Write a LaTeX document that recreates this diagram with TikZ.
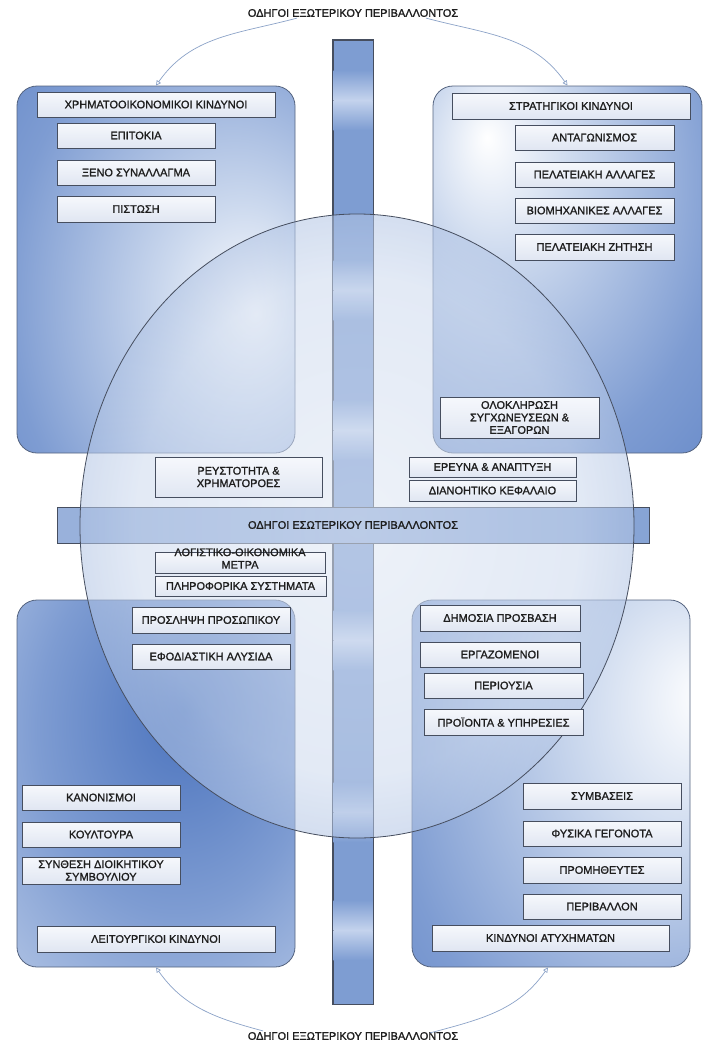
\documentclass[tikz,border=0pt]{standalone}
\usepackage{fontspec}
\setmainfont{Liberation Sans}[BoldFont={Liberation Sans}, BoldFeatures={FakeBold=1.2}]
\usetikzlibrary{arrows.meta,calc}
\definecolor{qdark}{RGB}{76,116,190}
\definecolor{qmid}{RGB}{126,156,210}
\definecolor{qlight}{RGB}{204,217,238}
\definecolor{barA}{RGB}{126,157,210}
\definecolor{barB}{RGB}{196,211,237}
\definecolor{edge}{RGB}{70,78,95}
\definecolor{quadedge}{RGB}{85,100,128}
\definecolor{boxtop}{RGB}{246,248,252}
\definecolor{boxbot}{RGB}{224,230,242}
\definecolor{arrowc}{RGB}{140,163,200}
\definecolor{txt}{RGB}{30,30,30}
\pgfdeclareradialshading{shTL}{\pgfpoint{18bp}{-6bp}}{color(0bp)=(white); color(14bp)=(qlight); color(38bp)=(qmid); color(68bp)=(qdark); color(100bp)=(qdark)}
\pgfdeclareradialshading{shTR}{\pgfpoint{-15bp}{18bp}}{color(0bp)=(white); color(14bp)=(qlight); color(38bp)=(qmid); color(68bp)=(qdark); color(100bp)=(qdark)}
\pgfdeclareradialshading{shBL}{\pgfpoint{5bp}{10bp}}{color(0bp)=(qdark); color(25bp)=(qmid); color(55bp)=(qlight); color(100bp)=(qlight)}
\pgfdeclareradialshading{shBR}{\pgfpoint{28bp}{12bp}}{color(0bp)=(white); color(18bp)=(qlight); color(45bp)=(qmid); color(75bp)=(qdark); color(100bp)=(qdark)}
\pgfdeclareradialshading{shC}{\pgfpoint{0bp}{0bp}}{color(0bp)=(qlight!60!white); color(20bp)=(qlight); color(35bp)=(qmid); color(47bp)=(qdark); color(50bp)=(qdark); color(100bp)=(qdark)}
\pgfdeclarehorizontalshading{shH}{100bp}{color(0bp)=(barB); color(10bp)=(barA!75!white); color(100bp)=(barA)}
\newcommand\myfs{\fontsize{11}{12.5}\selectfont\bfseries}
\tikzset{
  quad/.style={draw=quadedge, line width=0.8pt, rounded corners=20pt, inner sep=0pt, shade},
  sbox/.style={draw=edge, line width=0.8pt, top color=boxtop, bottom color=boxbot, inner sep=0pt, font=\myfs, text=txt, align=center},
  bar/.style={draw=edge, line width=0.7pt, inner sep=0pt},
  lbl/.style={font=\myfs, text=txt, inner sep=1pt, align=center},
  conn/.style={draw=arrowc, line width=0.7pt, -{Triangle[open,length=5pt,width=5pt]}}
}
\begin{document}
\begin{tikzpicture}[x=1pt,y=-1pt]
\useasboundingbox (0,0) rectangle (706,1044);
\fill[white] (0,0) rectangle (706,1044);
% quadrants
\node[quad, shading=shTL, minimum width=278pt, minimum height=367pt] (tl) at (156,269.5) {};
\node[quad, shading=shTR, minimum width=269pt, minimum height=367pt] (tr) at (567.5,269.5) {};
\node[quad, shading=shBL, minimum width=278pt, minimum height=367pt] (bl) at (156,783.5) {};
\node[quad, shading=shBR, minimum width=278pt, minimum height=367pt] (br) at (551,783.5) {};
% vertical bar with soft light streaks
\node[bar, fill=barA, minimum width=40pt, minimum height=964pt] (vbar) at (353,522) {};
\foreach \yb in {100,290,430,640,812,930}{
  \shade[top color=barA, bottom color=barB] (333.5,\yb-30) rectangle (372.5,\yb);
  \shade[top color=barB, bottom color=barA] (333.5,\yb) rectangle (372.5,\yb+30);
}
\draw[edge, line width=0.7pt] (vbar.north west) rectangle (vbar.south east);
% horizontal bar
\node[bar, shade, shading=shH, minimum width=592pt, minimum height=36pt] (hbar) at (353,525) {};
% circle
\begin{scope}[fill opacity=0.55]
\shade[shading=shC] (357,526) ellipse [x radius=277pt, y radius=312pt];
\end{scope}
\draw[edge, line width=0.8pt] (357,526) ellipse [x radius=277pt, y radius=312pt];
\node[lbl] (hbartxt) at (hbar.center) {ΟΔΗΓΟΙ ΕΣΩΤΕΡΙΚΟΥ ΠΕΡΙΒΑΛΛΟΝΤΟΣ};
% top-left boxes
\node[sbox, minimum width=238pt, minimum height=25pt] (fin) at (156,104.5) {ΧΡΗΜΑΤΟΟΙΚΟΝΟΜΙΚΟΙ ΚΙΝΔΥΝΟΙ};
\node[sbox, minimum width=158pt, minimum height=25pt] (epit) at (136,135.5) {ΕΠΙΤΟΚΙΑ};
\node[sbox, minimum width=158pt, minimum height=25pt] (xeno) at (136,172.5) {ΞΕΝΟ ΣΥΝΑΛΛΑΓΜΑ};
\node[sbox, minimum width=158pt, minimum height=26pt] (pist) at (136,209) {ΠΙΣΤΩΣΗ};
% top-right boxes
\node[sbox, minimum width=238pt, minimum height=26pt] (strat) at (571,106) {ΣΤΡΑΤΗΓΙΚΟΙ ΚΙΝΔΥΝΟΙ};
\node[sbox, minimum width=159pt, minimum height=25pt] (antag) at (594.5,137.5) {ΑΝΤΑΓΩΝΙΣΜΟΣ};
\node[sbox, minimum width=159pt, minimum height=25pt] (pelal) at (594.5,174.5) {ΠΕΛΑΤΕΙΑΚΗ ΑΛΛΑΓΕΣ};
\node[sbox, minimum width=159pt, minimum height=25pt] (viom) at (594.5,210.5) {ΒΙΟΜΗΧΑΝΙΚΕΣ ΑΛΛΑΓΕΣ};
\node[sbox, minimum width=159pt, minimum height=26pt] (pelz) at (594.5,247) {ΠΕΛΑΤΕΙΑΚΗ ΖΗΤΗΣΗ};
\node[sbox, minimum width=159pt, minimum height=41pt] (olok) at (519.5,417.5) {ΟΛΟΚΛΗΡΩΣΗ\\ΣΥΓΧΩΝΕΥΣΕΩΝ \&\\ΕΞΑΓΟΡΩΝ};
% middle boxes
\node[sbox, minimum width=167pt, minimum height=40pt] (reys) at (238.5,477) {ΡΕΥΣΤΟΤΗΤΑ \&\\ΧΡΗΜΑΤΟΡΟΕΣ};
\node[sbox, minimum width=167pt, minimum height=20pt] (erev) at (492.5,467) {ΕΡΕΥΝΑ \& ΑΝΑΠΤΥΞΗ};
\node[sbox, minimum width=167pt, minimum height=21pt] (dian) at (492.5,490.5) {ΔΙΑΝΟΗΤΙΚΟ ΚΕΦΑΛΑΙΟ};
\node[sbox, minimum width=170pt, minimum height=21pt] (logb) at (240,562.5) {};
\node[lbl] (logt) at (240,558.5) {ΛΟΓΙΣΤΙΚΟ-ΟΙΚΟΝΟΜΙΚΑ\\ΜΕΤΡΑ};
\node[sbox, minimum width=171pt, minimum height=20pt] (plir) at (240.5,586) {ΠΛΗΡΟΦΟΡΙΚΑ ΣΥΣΤΗΜΑΤΑ};
% bottom-left boxes
\node[sbox, minimum width=158pt, minimum height=26pt] (pros) at (211,620) {ΠΡΟΣΛΗΨΗ ΠΡΟΣΩΠΙΚΟΥ};
\node[sbox, minimum width=158pt, minimum height=25pt] (efod) at (211,656.5) {ΕΦΟΔΙΑΣΤΙΚΗ ΑΛΥΣΙΔΑ};
\node[sbox, minimum width=158pt, minimum height=25pt] (kan) at (101,797.5) {ΚΑΝΟΝΙΣΜΟΙ};
\node[sbox, minimum width=158pt, minimum height=25pt] (koul) at (101,834.5) {ΚΟΥΛΤΟΥΡΑ};
\node[sbox, minimum width=158pt, minimum height=27pt] (synth) at (101,870.5) {ΣΥΝΘΕΣΗ ΔΙΟΙΚΗΤΙΚΟΥ\\ΣΥΜΒΟΥΛΙΟΥ};
\node[sbox, minimum width=238pt, minimum height=26pt] (leit) at (156,939) {ΛΕΙΤΟΥΡΓΙΚΟΙ ΚΙΝΔΥΝΟΙ};
% bottom-right boxes
\node[sbox, minimum width=160pt, minimum height=26pt] (dim) at (500,618) {ΔΗΜΟΣΙΑ ΠΡΟΣΒΑΣΗ};
\node[sbox, minimum width=160pt, minimum height=25pt] (erg) at (500,654.5) {ΕΡΓΑΖΟΜΕΝΟΙ};
\node[sbox, minimum width=159pt, minimum height=25pt] (peri) at (503.5,685.5) {ΠΕΡΙΟΥΣΙΑ};
\node[sbox, minimum width=159pt, minimum height=26pt] (proi) at (503.5,722) {ΠΡΟΪΟΝΤΑ \& ΥΠΗΡΕΣΙΕΣ};
\node[sbox, minimum width=158pt, minimum height=26pt] (symv) at (602,796) {ΣΥΜΒΑΣΕΙΣ};
\node[sbox, minimum width=158pt, minimum height=25pt] (fys) at (602,833.5) {ΦΥΣΙΚΑ ΓΕΓΟΝΟΤΑ};
\node[sbox, minimum width=158pt, minimum height=26pt] (prom) at (602,870) {ΠΡΟΜΗΘΕΥΤΕΣ};
\node[sbox, minimum width=158pt, minimum height=25pt] (perib) at (602,906.5) {ΠΕΡΙΒΑΛΛΟΝ};
\node[sbox, minimum width=237pt, minimum height=26pt] (atyx) at (550.5,938) {ΚΙΝΔΥΝΟΙ ΑΤΥΧΗΜΑΤΩΝ};
% external labels and arrows
\node[lbl] (toplbl) at (353,13) {ΟΔΗΓΟΙ ΕΞΩΤΕΡΙΚΟΥ ΠΕΡΙΒΑΛΛΟΝΤΟΣ};
\node[lbl] (botlbl) at (353,1036) {ΟΔΗΓΟΙ ΕΞΩΤΕΡΙΚΟΥ ΠΕΡΙΒΑΛΛΟΝΤΟΣ};
\draw[conn] ([xshift=-56pt]toplbl.south) to[out=195,in=55] (tl.north);
\draw[conn] ([xshift=73pt]toplbl.south) to[out=-15,in=125] (tr.north);
\draw[conn] ([xshift=-90pt]botlbl.north) to[out=165,in=-55] (bl.south);
\draw[conn] ([xshift=77pt,yshift=-2pt]botlbl.north) to[out=15,in=-125] ([xshift=-3pt]br.south);
\end{tikzpicture}
\end{document}
